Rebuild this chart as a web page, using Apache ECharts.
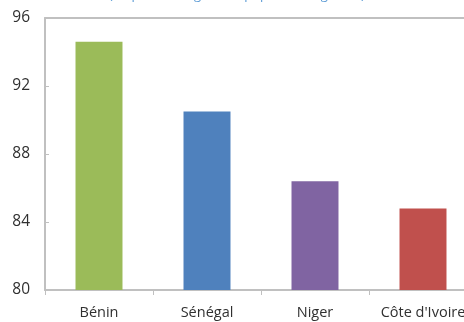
<!DOCTYPE html>
<html>
<head>
<meta charset="utf-8">
<script src="https://cdn.jsdelivr.net/npm/echarts@6/dist/echarts.min.js"></script>
<style>
  html, body { margin: 0; padding: 0; background: #fff; }
  #chart { width: 464px; height: 322px; }
</style>
</head>
<body>
<div id="chart"></div>
<script>
var countries = ['Bénin', 'Sénégal', 'Niger', "Côte d'Ivoire"];
var values = [94.6, 90.5, 86.4, 84.8];
var barColors = ['#9bbb59', '#4f81bd', '#8064a2', '#c0504d'];
var yTicks = [80, 84, 88, 92, 96];

(function () {
  var myChart = echarts.init(document.getElementById('chart'));
  var option = {
    animation: false,
    title: {
      text: '(en pourcentage de la population agricole)',
      left: 104,
      top: -16,
      textStyle: { color: '#5b9bd5', fontSize: 13, fontWeight: 'normal', fontFamily: 'Open Sans' }
    },
    // plot area runs past the right edge of the picture
    grid: { left: 45, width: 432, top: 18, bottom: 32, outerBoundsMode: 'none' },
    xAxis: [
      {
        type: 'category',
        data: countries,
        axisLine: { lineStyle: { color: '#c0c0c0', width: 2 } },
        axisTick: { show: true, length: 5, lineStyle: { color: '#c0c0c0' } },
        axisLabel: { interval: 0, color: '#303030', fontSize: 14.5, margin: 15, fontFamily: 'Open Sans' }
      },
      {
        // top border of the plot area
        type: 'category',
        position: 'top',
        data: countries,
        axisLine: { lineStyle: { color: '#c0c0c0', width: 2 } },
        axisTick: { show: false },
        axisLabel: { show: false }
      }
    ],
    yAxis: {
      type: 'value',
      min: yTicks[0],
      max: yTicks[yTicks.length - 1],
      interval: 4,
      axisLine: { show: true, lineStyle: { color: '#c0c0c0', width: 2 } },
      axisTick: { show: true, inside: true, length: 4, lineStyle: { color: '#c0c0c0' } },
      splitLine: { show: false },
      axisLabel: { color: '#303030', fontSize: 15.5, margin: 15, fontFamily: 'Open Sans' }
    },
    series: [
      {
        type: 'bar',
        barWidth: '43.5%',
        data: values.map(function (v, i) {
          return { value: v, itemStyle: { color: barColors[i] } };
        })
      }
    ]
  };
  myChart.setOption(option);
})();
</script>
</body>
</html>
